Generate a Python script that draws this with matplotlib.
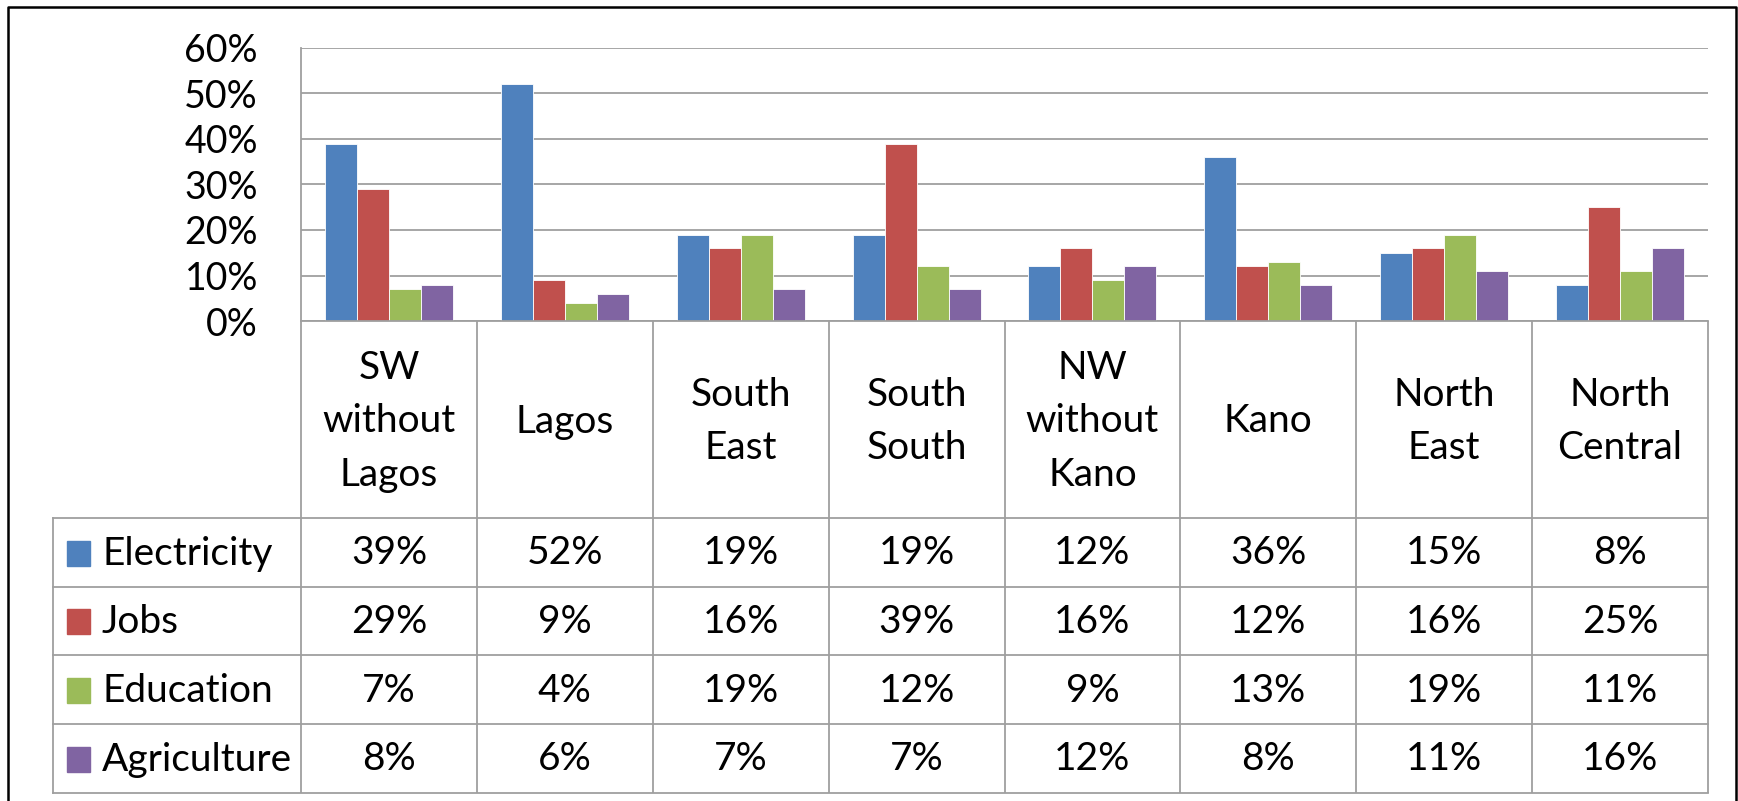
import matplotlib
matplotlib.use("Agg")
import matplotlib.pyplot as plt
from matplotlib.patches import Rectangle
from matplotlib.ticker import PercentFormatter, MultipleLocator
from matplotlib.transforms import blended_transform_factory

plt.rcParams['font.family'] = ['Lato', 'DejaVu Sans']

# data
regions = ["SW\nwithout\nLagos", "Lagos", "South\nEast", "South\nSouth",
           "NW\nwithout\nKano", "Kano", "North\nEast", "North\nCentral"]
series = ["Electricity", "Jobs", "Education", "Agriculture"]
electricity = [39, 52, 19, 19, 12, 36, 15, 8]
jobs = [29, 9, 16, 39, 16, 12, 16, 25]
education = [7, 4, 19, 12, 9, 13, 19, 11]
agriculture = [8, 6, 7, 7, 12, 8, 11, 16]
values = [electricity, jobs, education, agriculture]
colors = ["#4F81BD", "#C0504D", "#9BBB59", "#8064A2"]

W, H = 1738, 801
GRID = "#9f9f9f"
LW = 1.3

fig = plt.figure(figsize=(W / 100, H / 100), dpi=100)

# layout in pixels
ax_l, ax_r, ax_t, ax_b = 301, 1708, 48, 321
rows = [518, 587, 655, 724, 793]
tab_l = 53

ax = fig.add_axes([ax_l / W, 1 - ax_b / H, (ax_r - ax_l) / W, (ax_b - ax_t) / H])
over = fig.add_axes([0, 0, 1, 1], zorder=3)
over.set_xlim(0, W)
over.set_ylim(H, 0)
over.set_axis_off()
over.patch.set_visible(False)

n = len(regions)
bw = 1 / 5.5
for k, (vals, c) in enumerate(zip(values, colors)):
    xs = [i + (k - 1.5) * bw for i in range(n)]
    ax.bar(xs, [v / 100 for v in vals], width=bw, color=c,
           edgecolor="white", linewidth=0.6, zorder=2)

ax.set_xlim(-0.5, n - 0.5)
ax.set_ylim(0, 0.6)
ax.yaxis.set_major_locator(MultipleLocator(0.1))
ax.yaxis.set_major_formatter(PercentFormatter(1.0, decimals=0))
ax.set_xticks([])
ax.tick_params(axis="y", length=0, pad=31, labelsize=27)
ax.yaxis.grid(True, color=GRID, lw=LW)
ax.set_axisbelow(True)
for s in ["top", "right"]:
    ax.spines[s].set_visible(False)
for s in ["left", "bottom"]:
    ax.spines[s].set_color(GRID)
    ax.spines[s].set_linewidth(LW)

# data table under the chart
tr = blended_transform_factory(ax.transData, over.transData)
for i in range(n + 1):
    over.plot([i - 0.5, i - 0.5], [ax_b, rows[-1]], color=GRID, lw=LW,
              transform=tr, solid_capstyle="butt")
over.plot([tab_l, tab_l], [rows[0], rows[-1]], color=GRID, lw=LW)
for y in rows:
    over.plot([tab_l, ax_r], [y, y], color=GRID, lw=LW)

hy = (ax_b + rows[0]) / 2
for i, name in enumerate(regions):
    over.text(i, hy + 2, name, transform=tr, ha="center", va="center",
              fontsize=28, linespacing=1.6)

for k, name in enumerate(series):
    yc = (rows[k] + rows[k + 1]) / 2
    over.add_patch(Rectangle((67, yc - 12), 23, 25, color=colors[k]))
    over.text(102, yc + 1, name, ha="left", va="center", fontsize=28)
    for i, v in enumerate(values[k]):
        over.text(i, yc + 1, f"{v}%", transform=tr, ha="center",
                  va="center", fontsize=28)

# outer frame
over.plot([8, 8, 1736, 1736], [H, 7, 7, H], color="black", lw=1.8)

fig.savefig("out.png", dpi=100, facecolor="white")
